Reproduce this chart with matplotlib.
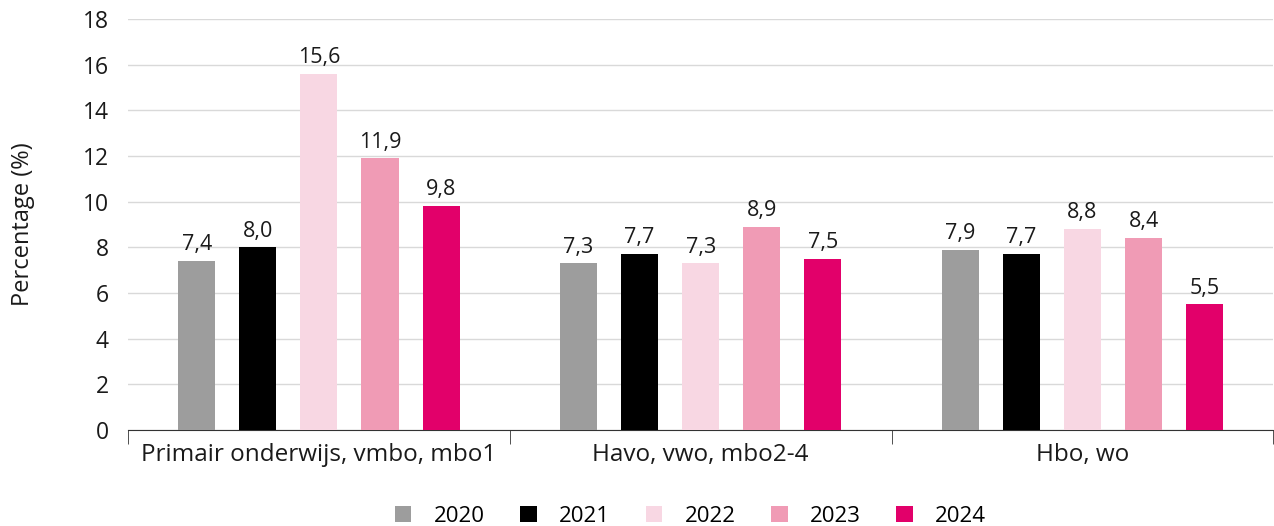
import matplotlib.pyplot as plt
import numpy as np

categories = ["Primair onderwijs, vmbo, mbo1", "Havo, vwo, mbo2-4", "Hbo, wo"]
years = ["2020", "2021", "2022", "2023", "2024"]
values = {
    "2020": [7.4, 7.3, 7.9],
    "2021": [8.0, 7.7, 7.7],
    "2022": [15.6, 7.3, 8.8],
    "2023": [11.9, 8.9, 8.4],
    "2024": [9.8, 7.5, 5.5],
}
colors = ["#9d9d9d", "#000000", "#f8d7e3", "#f09bb5", "#e2006a"]

plt.rcParams["font.family"] = ["Open Sans", "DejaVu Sans"]

fig = plt.figure(figsize=(12.74, 5.26), dpi=100)
ax = fig.add_axes([0.1005, 0.1825, 0.899, 0.7815])

x = np.arange(len(categories))
step = 0.16
width = 0.097
for i, (year, color) in enumerate(zip(years, colors)):
    pos = x + (i - 2) * step
    bars = ax.bar(pos, values[year], width=width, color=color, label=year, zorder=3)
    for b, v in zip(bars, values[year]):
        ax.text(b.get_x() + b.get_width() / 2, v + 0.25, f"{v:.1f}".replace(".", ","),
                ha="center", va="bottom", fontsize=15.5, color="#1a1a1a")

ax.set_xlim(-0.5, len(categories) - 0.5)
ax.set_ylim(0, 18)
ax.set_yticks(range(0, 19, 2))
ax.yaxis.grid(True, color="#d9d9d9", linewidth=1)
ax.set_axisbelow(True)
for s in ["left", "right", "top"]:
    ax.spines[s].set_visible(False)
ax.spines["bottom"].set_color("#333333")
ax.tick_params(axis="y", length=0, labelsize=16.5, pad=14, colors="#1a1a1a")

ax.set_xticks(x)
ax.set_xticklabels(categories)
ax.tick_params(axis="x", length=0, labelsize=17.5, pad=9, colors="#1a1a1a")
ax.set_xticks(np.arange(len(categories) + 1) - 0.5, minor=True)
ax.tick_params(axis="x", which="minor", length=10, color="#333333")

ax.set_ylabel("Percentage (%)", fontsize=17, labelpad=34, color="#1a1a1a")

fig.legend(loc="lower center", bbox_to_anchor=(0.542, -0.04), ncol=5, frameon=False,
           fontsize=16, handlelength=0.75, handleheight=0.75, columnspacing=1.6,
           handletextpad=1.0)

fig.savefig("out.png", dpi=100)
